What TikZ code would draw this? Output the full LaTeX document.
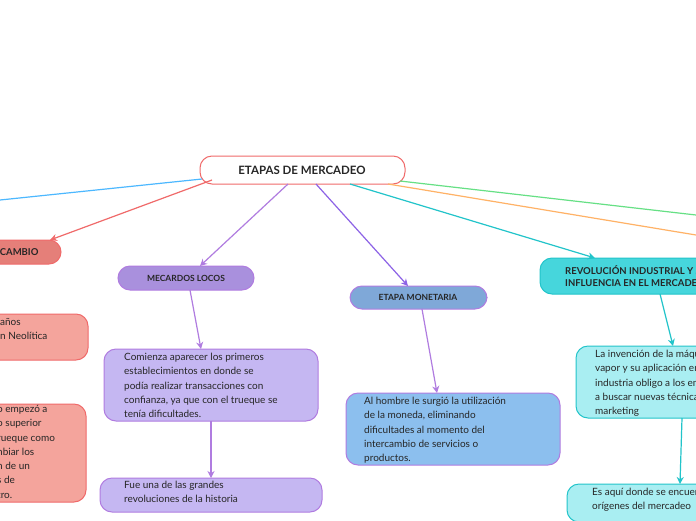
\documentclass[tikz,border=0pt]{standalone}
\usepackage{fontspec}
\setmainfont{Lato}
\usetikzlibrary{arrows.meta}
\begin{document}
\begin{tikzpicture}[x=1pt,y=-1pt,
  box/.style={draw,line width=1pt,rounded corners=12pt,inner sep=0pt},
  lbl/.style={font=\fontsize{9.5}{12}\selectfont\bfseries,text=black!85},
  txt/.style={font=\fontsize{10}{14.3}\selectfont,text=black!85,align=left,anchor=north west,inner sep=0pt},
  con/.style={line width=1.2pt},
  arr/.style={line width=1.2pt,-{Stealth[length=7pt,width=7pt]}}]
\useasboundingbox[fill=white] (0,0) rectangle (696,520);
\definecolor{rb}{HTML}{F06A6A}\definecolor{rf}{HTML}{E57F79}\definecolor{rl}{HTML}{F4A49C}
\definecolor{pb}{HTML}{B07CE0}\definecolor{pf}{HTML}{A990DD}\definecolor{pl}{HTML}{C5B7F2}
\definecolor{bf}{HTML}{7FA8D8}\definecolor{bl}{HTML}{8CBFEE}
\definecolor{tb}{HTML}{22C4CA}\definecolor{tf}{HTML}{46D6DC}\definecolor{tl}{HTML}{A9EEF2}
% root
\draw[box,rb,fill=white] (200,156) rectangle (405,184);
\node[lbl,font=\fontsize{11.5}{13}\selectfont\bfseries] (root) at (302,170) {ETAPAS DE MERCADEO};
% branches
\coordinate (bl) at (0,200);
\draw[con,color=blue!40!cyan!70] (202,179) -- (bl);
\draw[box,rb,fill=rf] (-30,240) rectangle (61,264);
\node[lbl,anchor=east] (cam) at (42,252) {CAMBIO};
\draw[arr,rb] (212,180) -- (50,240);
\draw[box,pb,fill=pf] (118,266) rectangle (254,290);
\node[lbl,font=\fontsize{8.5}{10}\selectfont\bfseries] (ml) at (186,278) {MECARDOS LOCOS};
\draw[arr,pb] (288,184) -- (200,266);
\draw[box,pb,fill=bf] (350,286) rectangle (487,309);
\node[lbl,font=\fontsize{8.5}{10}\selectfont\bfseries] (em) at (418,297.5) {ETAPA MONETARIA};
\draw[arr,pb!80!blue] (316,184) -- (408,286);
\draw[box,tb,fill=tf] (540,258) rectangle (720,294);
\node[lbl,anchor=north west,align=left,inner sep=0pt] (ri) at (565,265) {REVOLUCIÓN INDUSTRIAL Y SU\\INFLUENCIA EN EL MERCADEO};
\draw[arr,tb] (350,184) -- (595,258);
\coordinate (or) at (696,235);\coordinate (gr) at (696,215);
\draw[con,color=orange!60] (388,184) -- (or);
\draw[con,color=green!60!teal!60] (400,181) -- (gr);
% purple children
\draw[box,pb,fill=pl] (104,349) rectangle (318,421);
\node[txt] (p1) at (124,353) {Comienza aparecer los primeros\\establecimientos en donde se\\podía realizar transacciones con\\confianza, ya que con el trueque se\\tenía dificultades.};
\draw[arr,pb] (190,290) -- (201,349);
\draw[box,pb,fill=pl] (100,478) rectangle (322,512);
\node[txt] (p2) at (124,481) {Fue una de las grandes\\revoluciones de la historia};
\draw[arr,pb] (211,421) -- (211,478);
% blue child
\draw[box,pb,fill=bl] (346,393) rectangle (560,465);
\node[txt] (b1) at (364,397) {Al hombre le surgió la utilización\\de la moneda, eliminando\\dificultades al momento del\\intercambio de servicios o\\productos.};
\draw[arr,pb] (422,309) -- (437,393);
% teal children
\draw[box,tb,fill=tl] (576,346) rectangle (720,418);
\node[txt] (t1) at (595,350) {La invención de la máquina de\\vapor y su aplicación en la\\industria obligo a los empresarios\\a buscar nuevas técnicas de\\marketing};
\draw[arr,tb] (660,294) -- (673,346);
\draw[box,tb,fill=tl] (567,484) rectangle (720,522);
\node[txt] (t2) at (592,488) {Es aquí donde se encuentran los\\orígenes del mercadeo};
\draw[arr,tb] (682,418) -- (680,484);
% red children
\draw[box,rb,fill=rl] (-30,314) rectangle (88,360);
\node[txt] (r1) at (0,318) {años\\n Neolítica};
\draw[box,rb,fill=rl] (-30,404) rectangle (86,502);
\node[txt,anchor=north west] (r2) at (-3,405) {o empezó a\\o superior\\rueque como\\nbiar los\\n de un\\s de\\tro.};
\end{tikzpicture}
\end{document}
